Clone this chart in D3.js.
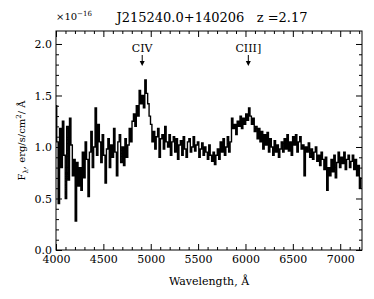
<!DOCTYPE html>
<html>
<head>
<meta charset="utf-8">
<script src="https://cdn.jsdelivr.net/npm/d3@7"></script>
<style>
  body { margin: 0; background: #fff; }
  svg text { font-family: "DejaVu Serif", serif; fill: #000; }
</style>
</head>
<body>
<div id="chart"></div>
<script>
// spectrum, flux in units of 1e-16 erg/s/cm2/A, 15 A bins starting at 4000 A
var waveStart = 4000, waveStep = 15;
var flux = [
  1.40, 1.05, 0.45, 1.18, 0.80, 1.25, 0.92, 0.50, 1.20, 0.68, 1.28, 1.02, 0.72, 0.88, 0.28, 0.85, 0.62, 0.80, 0.58, 0.95,
  0.70, 1.05, 0.88, 0.52, 0.95, 1.15, 0.80, 1.00, 1.38, 0.92, 1.22, 1.05, 0.85, 1.12, 0.92, 0.65, 0.98, 1.08, 0.80, 1.02,
  0.90, 1.18, 0.95, 0.72, 1.05, 1.12, 0.85, 1.00, 0.82, 1.08, 0.90, 1.02, 1.18, 1.05, 1.25, 1.32, 1.20, 1.40, 1.30, 1.55,
  1.42, 1.50, 1.38, 1.65, 1.52, 1.42, 1.30, 1.22, 1.05, 1.15, 0.98, 1.10, 1.18, 0.90, 1.08, 1.12, 0.98, 1.20, 1.05, 1.00,
  1.12, 0.92, 1.05, 1.10, 0.95, 1.08, 0.88, 1.02, 1.06, 0.92, 1.10, 0.98, 0.90, 1.05, 1.08, 0.95, 1.00, 1.10, 0.96, 1.02,
  1.05, 0.90, 0.98, 1.04, 0.92, 1.00, 0.95, 0.88, 1.02, 0.92, 0.86, 0.95, 0.83, 0.92, 0.98, 0.88, 1.05, 0.95, 1.08, 0.92,
  1.00, 1.10, 0.95, 1.05, 1.28, 1.18, 1.22, 1.12, 1.25, 1.20, 1.30, 1.18, 1.28, 1.22, 1.32, 1.26, 1.38, 1.30, 1.22, 1.28,
  1.15, 1.20, 1.08, 1.18, 1.05, 1.15, 0.98, 1.12, 1.02, 1.14, 0.95, 1.08, 1.00, 0.92, 1.06, 0.95, 1.02, 0.90, 0.98, 1.05,
  0.95, 1.08, 0.98, 1.12, 0.96, 1.05, 0.92, 1.10, 1.02, 1.12, 0.95, 1.05, 1.10, 0.98, 1.02, 0.72, 1.00, 0.95, 1.04, 0.90,
  0.98, 0.88, 0.95, 1.00, 0.86, 0.92, 0.82, 0.95, 0.88, 0.78, 0.90, 0.58, 0.80, 0.72, 0.88, 0.76, 0.92, 0.70, 0.85, 0.95,
  0.80, 0.90, 0.84, 0.95, 0.78, 0.88, 0.92, 0.80, 0.86, 0.92, 0.78, 0.88, 0.72, 0.82, 0.60, 0.70
];
var lineNames = ["CIV", "CIII]"];
var lineWaves = [4910, 6030];
var xTicks = [4000, 4500, 5000, 5500, 6000, 6500, 7000];
var yTicks = [0, 0.5, 1.0, 1.5, 2.0];

var W = 374, H = 299;
var m = {left: 56, right: 12, top: 31, bottom: 49};
var iw = W - m.left - m.right, ih = H - m.top - m.bottom;

var svg = d3.select("#chart").append("svg").attr("width", W).attr("height", H);
var g = svg.append("g").attr("transform", "translate(" + m.left + "," + m.top + ")");

var x = d3.scaleLinear().domain([4000, 7230]).range([0, iw]);
var y = d3.scaleLinear().domain([0, 2.126]).range([ih, 0]);

var data = flux.map(function (f, i) { return [waveStart + i * waveStep, f]; });

g.append("defs").append("clipPath").attr("id", "clip")
  .append("rect").attr("width", iw).attr("height", ih);

var line = d3.line()
  .x(function (d) { return x(d[0]); })
  .y(function (d) { return y(d[1]); })
  .curve(d3.curveStep);

g.append("path").datum(data)
  .attr("clip-path", "url(#clip)")
  .attr("fill", "none").attr("stroke", "#000").attr("stroke-width", 1.4)
  .attr("d", line);

// axes with inward ticks on all sides
function styleAxis(sel) {
  sel.select(".domain").remove();
  sel.selectAll("line").attr("stroke", "#000");
  sel.selectAll("text").attr("font-size", 11);
}
var xMinor = d3.range(4000, 7231, 100).filter(function (v) { return v % 500; });
var yMinor = d3.range(0, 21).map(function (v) { return v / 10; }).filter(function (v, i) { return i % 5; });

g.append("g").attr("transform", "translate(0," + ih + ")")
  .call(d3.axisBottom(x).tickValues(xTicks).tickSize(-6).tickPadding(5).tickFormat(d3.format("d")))
  .call(styleAxis);
g.append("g").attr("transform", "translate(0," + ih + ")")
  .call(d3.axisBottom(x).tickValues(xMinor).tickSize(-3).tickFormat(""))
  .call(styleAxis);
g.append("g")
  .call(d3.axisTop(x).tickValues(xTicks).tickSize(-6).tickFormat(""))
  .call(styleAxis);
g.append("g")
  .call(d3.axisTop(x).tickValues(xMinor).tickSize(-3).tickFormat(""))
  .call(styleAxis);
g.append("g")
  .call(d3.axisLeft(y).tickValues(yTicks).tickSize(-6).tickPadding(4).tickFormat(d3.format(".1f")))
  .call(styleAxis);
g.append("g")
  .call(d3.axisLeft(y).tickValues(yMinor).tickSize(-3).tickFormat(""))
  .call(styleAxis);
g.append("g").attr("transform", "translate(" + iw + ",0)")
  .call(d3.axisRight(y).tickValues(yTicks).tickSize(-6).tickFormat(""))
  .call(styleAxis);
g.append("g").attr("transform", "translate(" + iw + ",0)")
  .call(d3.axisRight(y).tickValues(yMinor).tickSize(-3).tickFormat(""))
  .call(styleAxis);

g.append("rect").attr("width", iw).attr("height", ih)
  .attr("fill", "none").attr("stroke", "#000").attr("stroke-width", 1);

// line identifications
var marks = g.selectAll(".lineid").data(lineNames).enter().append("g")
  .attr("transform", function (d, i) { return "translate(" + x(lineWaves[i]) + ",0)"; });
marks.append("text").attr("y", 21).attr("text-anchor", "middle").attr("font-size", 11)
  .text(function (d) { return d; });
marks.append("line").attr("y1", 24).attr("y2", 33).attr("stroke", "#000").attr("stroke-width", 1);
marks.append("path").attr("d", "M-2.5,30L2.5,30L0,35Z").attr("fill", "#000");

// titles
svg.append("text").attr("x", 212).attr("y", 22).attr("text-anchor", "middle")
  .attr("font-size", 13).attr("xml:space", "preserve").text("J215240.0+140206   z =2.17");
var mult = svg.append("text").attr("x", 56).attr("y", 20).attr("font-size", 10);
mult.append("tspan").text("\u00d710");
mult.append("tspan").attr("dy", -4).attr("font-size", 7).text("\u221216");

svg.append("text").attr("x", m.left + iw / 2).attr("y", 285).attr("text-anchor", "middle")
  .attr("font-size", 11).text("Wavelength, \u00c5");

var yl = svg.append("text").attr("transform", "translate(25," + (m.top + ih / 2) + ") rotate(-90)")
  .attr("text-anchor", "middle").attr("font-size", 10);
yl.append("tspan").text("F");
yl.append("tspan").attr("dy", 3).attr("font-size", 7).text("\u03bb");
yl.append("tspan").attr("dy", -3).text(", erg/s/cm");
yl.append("tspan").attr("dy", -4).attr("font-size", 7).text("2");
yl.append("tspan").attr("dy", 4).text("/ \u00c5");
</script>
</body>
</html>
